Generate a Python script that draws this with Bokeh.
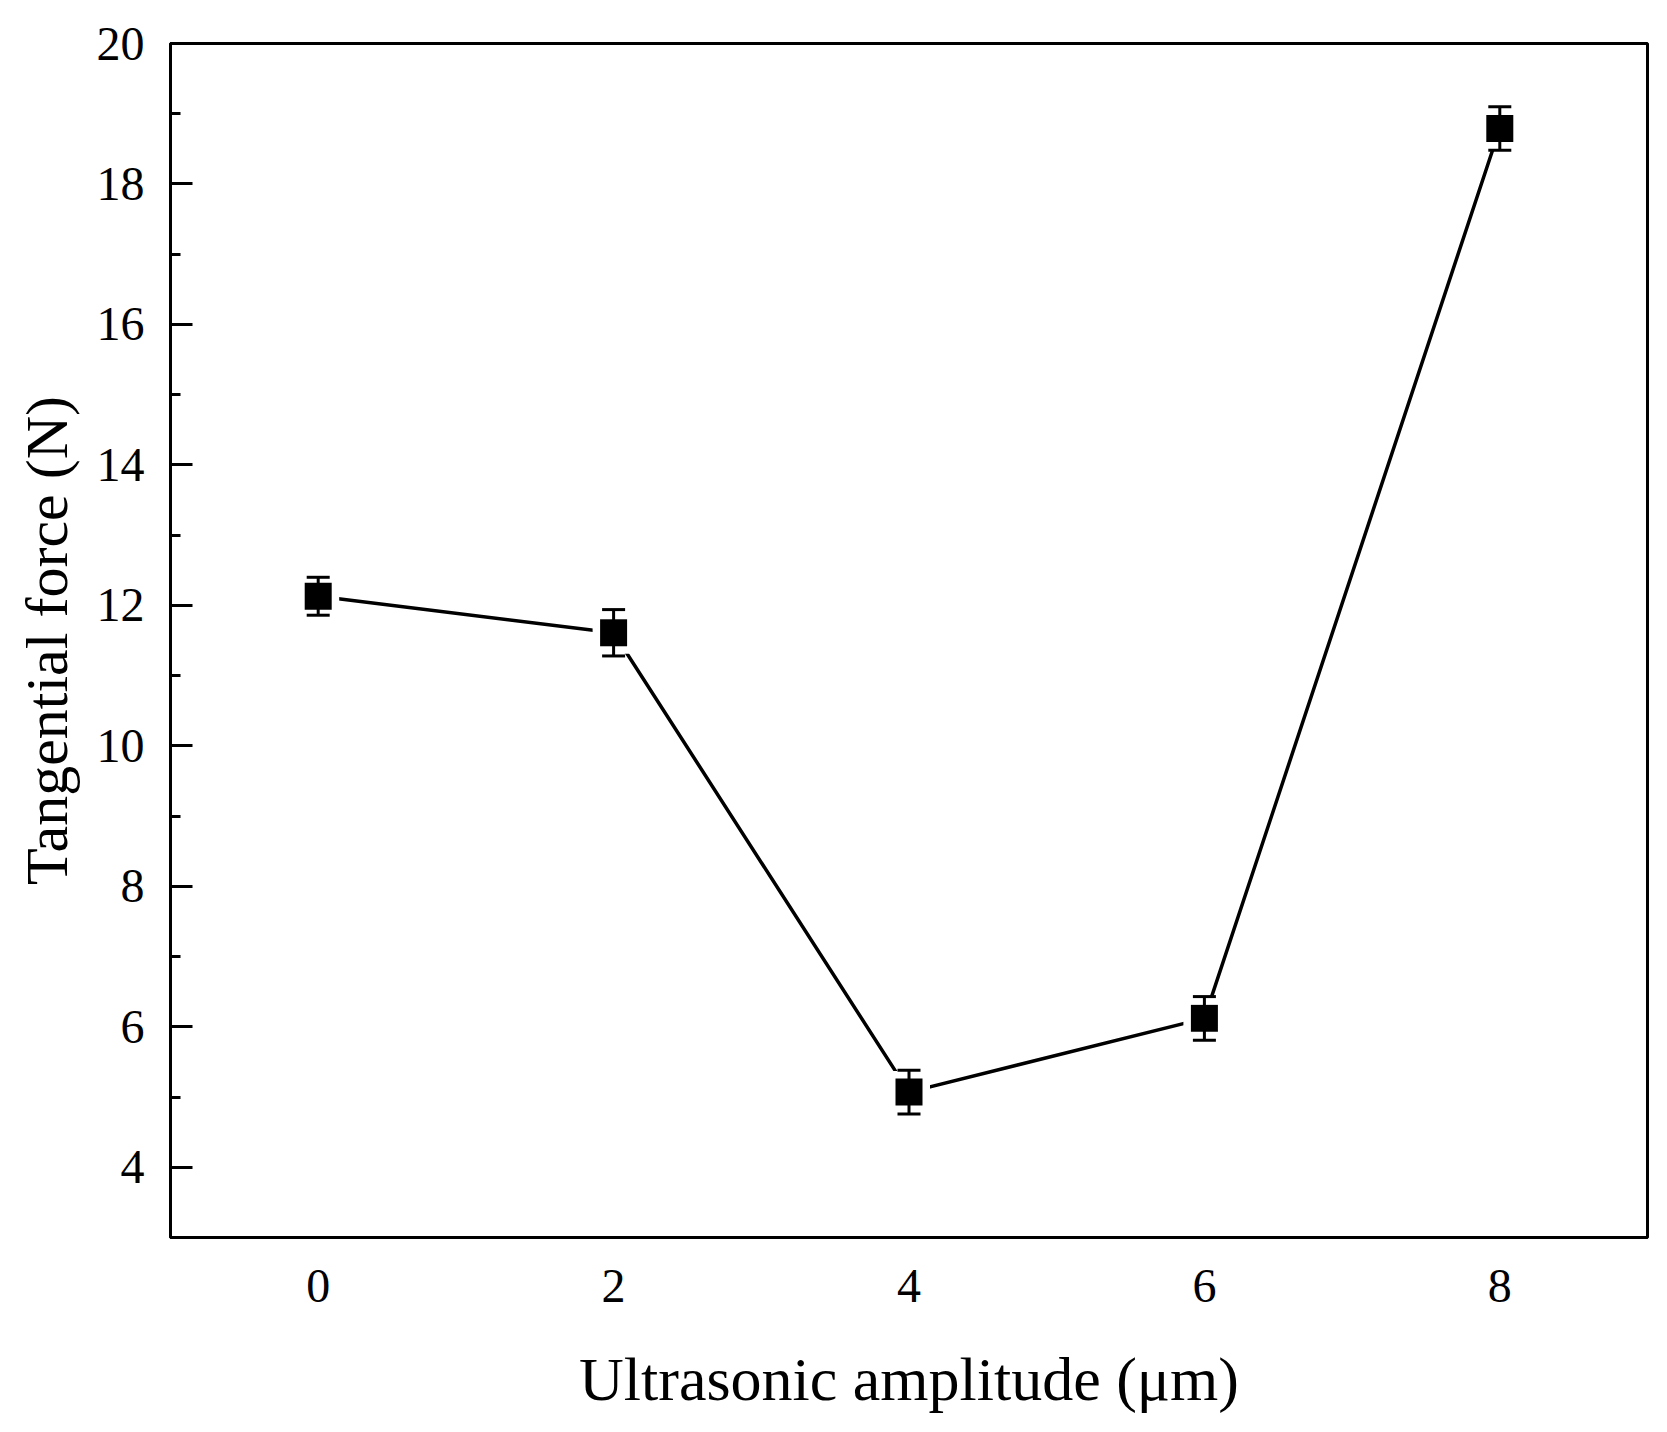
from bokeh.plotting import figure
from bokeh.models import ColumnDataSource, Range1d, SingleIntervalTicker, Whisker, TeeHead
from bokeh.embed import file_html
from bokeh.resources import INLINE

amplitude = [0, 2, 4, 6, 8]
force = [12.13, 11.61, 5.07, 6.12, 18.79]
error = [0.27, 0.33, 0.31, 0.31, 0.31]

x_label = "Ultrasonic amplitude (\u03bcm)"
y_label = "Tangential force (N)"

lower = [f - e for f, e in zip(force, error)]
upper = [f + e for f, e in zip(force, error)]
src = ColumnDataSource(data=dict(x=amplitude, y=force, lower=lower, upper=upper))

FONT = "Liberation Serif"

p = figure(width=1651, height=1416, output_backend="svg", toolbar_location=None,
           x_range=Range1d(-1, 9), y_range=Range1d(3, 20),
           min_border_left=170, min_border_right=4, min_border_top=43, min_border_bottom=179)

p.xgrid.visible = False
p.ygrid.visible = False
p.outline_line_color = "black"
p.outline_line_width = 3
p.outline_line_alpha = 1.0
p.background_fill_color = "white"
p.border_fill_color = "white"

# x axis
xa = p.xaxis[0]
xa.ticker = SingleIntervalTicker(interval=2, num_minor_ticks=0)
xa.major_tick_in = 0
xa.major_tick_out = 0
xa.minor_tick_in = 0
xa.minor_tick_out = 0
xa.axis_line_width = 3
xa.axis_line_color = "black"
xa.major_label_text_font = FONT
xa.major_label_text_font_size = "48px"
xa.major_label_text_color = "black"
xa.major_label_standoff = 32
xa.axis_label = x_label
xa.axis_label_text_font = FONT
xa.axis_label_text_font_size = "62px"
xa.axis_label_text_font_style = "normal"
xa.axis_label_text_color = "black"
xa.axis_label_standoff = 40

# y axis
ya = p.yaxis[0]
ya.ticker = SingleIntervalTicker(interval=2, num_minor_ticks=2)
ya.major_tick_in = 22
ya.major_tick_out = 0
ya.minor_tick_in = 10
ya.minor_tick_out = 0
ya.major_tick_line_width = 3
ya.minor_tick_line_width = 3
ya.axis_line_width = 3
ya.axis_line_color = "black"
ya.major_label_text_font = FONT
ya.major_label_text_font_size = "48px"
ya.major_label_text_color = "black"
ya.major_label_standoff = 26
ya.axis_label = y_label
ya.axis_label_text_font = FONT
ya.axis_label_text_font_size = "60px"
ya.axis_label_text_font_style = "normal"
ya.axis_label_text_color = "black"
ya.axis_label_standoff = 14

# connecting line
p.line("x", "y", source=src, line_color="black", line_width=3.5)
# white halo to create gap between line and symbols
p.scatter("x", "y", source=src, marker="square", size=42, fill_color="white", line_color=None)
# symbols
p.scatter("x", "y", source=src, marker="square", size=27, fill_color="black", line_color=None)
# error bars
wh = Whisker(source=src, base="x", lower="lower", upper="upper", level="overlay",
             line_color="black", line_width=3,
             upper_head=TeeHead(size=23, line_color="black", line_width=3),
             lower_head=TeeHead(size=23, line_color="black", line_width=3))
p.add_layout(wh)

open("out.html", "w").write(file_html(p, INLINE))
